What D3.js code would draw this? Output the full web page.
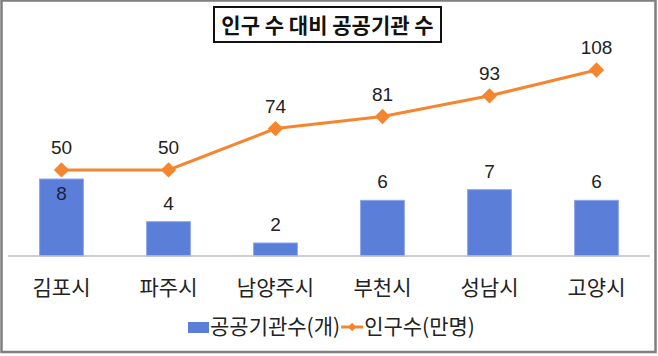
<!DOCTYPE html>
<html><head><meta charset="utf-8">
<script src="https://cdn.jsdelivr.net/npm/d3@7"></script>
<style>
html,body{margin:0;padding:0;background:#fff;}
text{font-family:"Noto Sans CJK KR","Noto Sans",sans-serif;}
text.num{font-family:"Liberation Sans",Arial,sans-serif;}
</style></head>
<body>
<svg id="chart" width="658" height="356"></svg>
<script>
const categories = ["김포시","파주시","남양주시","부천시","성남시","고양시"];
const agencies = [8,4,2,6,7,6];
const population = [50,50,74,81,93,108];
const seriesNames = ["공공기관수(개)","인구수(만명)"];
const title = "인구 수 대비 공공기관 수";

const svg=d3.select("#chart");
const blue="#5b7ed8", orange="#f5862f";

svg.append("rect").attr("x",1.5).attr("y",0.5).attr("width",654).attr("height",351.5)
  .attr("fill","#fff").attr("stroke","#7f7f7f").attr("stroke-width",2.5);

const baseY=256;
const x=d3.scaleBand().domain(categories).range([8,650]).paddingInner(0.59).paddingOuter(0.295);
const yBar=d3.scaleLinear().domain([0.78,8]).range([baseY,179]);
const yLine=d3.scaleLinear().domain([0,108]).range([baseY,70]);

// bars
svg.selectAll("rect.bar").data(agencies).enter().append("rect")
  .attr("class","bar")
  .attr("x",(d,i)=>x(categories[i]))
  .attr("width",x.bandwidth())
  .attr("y",d=>yBar(d))
  .attr("height",d=>baseY-yBar(d))
  .attr("fill",blue).attr("stroke","#8ea6ea").attr("stroke-width",1);

// axis
const axis=svg.append("g").attr("transform",`translate(0,${baseY})`)
  .call(d3.axisBottom(x).tickSize(0));
axis.select(".domain").attr("stroke","#bfbfbf").attr("stroke-width",1.5).attr("d","M8,0H650");
axis.selectAll("text").attr("font-size",21).attr("fill","#222").attr("dy",null).attr("y",39);

// line
const cx=d=>x(d)+x.bandwidth()/2;
const line=d3.line().x((d,i)=>cx(categories[i])).y(d=>yLine(d));
svg.append("path").datum(population).attr("d",line)
  .attr("fill","none").attr("stroke",orange).attr("stroke-width",3);
const diamond=d3.symbol().type(d3.symbolDiamond2).size(150);
svg.selectAll("path.mk").data(population).enter().append("path")
  .attr("class","mk")
  .attr("d",diamond)
  .attr("transform",(d,i)=>`translate(${cx(categories[i])},${yLine(d)})`)
  .attr("fill",orange);

// line labels
svg.selectAll("text.pl").data(population).enter().append("text")
  .attr("class","num")
  .attr("x",(d,i)=>cx(categories[i])).attr("y",d=>yLine(d)-16)
  .attr("text-anchor","middle").attr("font-size",19).attr("fill","#222")
  .text(d=>d);

// bar labels
const inside=(d,i)=>yBar(d)-yLine(population[i])<30;
svg.selectAll("text.bl").data(agencies).enter().append("text")
  .attr("class","num")
  .attr("x",(d,i)=>cx(categories[i]))
  .attr("y",(d,i)=> inside(d,i)? yBar(d)+21 : yBar(d)-12)
  .attr("text-anchor","middle").attr("font-size",19)
  .attr("fill",(d,i)=> inside(d,i)?"#1a2340":"#222")
  .text(d=>d);

// title
const tg=svg.append("g");
tg.append("rect").attr("x",214).attr("y",7).attr("width",227).attr("height",35)
  .attr("fill","#fff").attr("stroke","#111").attr("stroke-width",2);
tg.append("text").attr("x",327.5).attr("y",33).attr("text-anchor","middle")
  .attr("font-size",21).attr("font-weight","bold").attr("fill","#111").text(title);

// legend
const lg=svg.append("g");
lg.append("rect").attr("x",188).attr("y",322).attr("width",21).attr("height",11).attr("fill",blue);
lg.append("text").attr("x",210).attr("y",334).attr("font-size",21).attr("fill","#222").text(seriesNames[0]);
const t0=lg.select("text").node().getComputedTextLength();
const lx=210+t0+1;
lg.append("line").attr("x1",lx).attr("x2",lx+22).attr("y1",327).attr("y2",327).attr("stroke",orange).attr("stroke-width",3);
lg.append("path").attr("d",d3.symbol().type(d3.symbolDiamond2).size(45)).attr("transform",`translate(${lx+11},327)`).attr("fill",orange);
lg.append("text").attr("x",lx+23).attr("y",334).attr("font-size",21).attr("fill","#222").text(seriesNames[1]);
</script>
</body></html>
